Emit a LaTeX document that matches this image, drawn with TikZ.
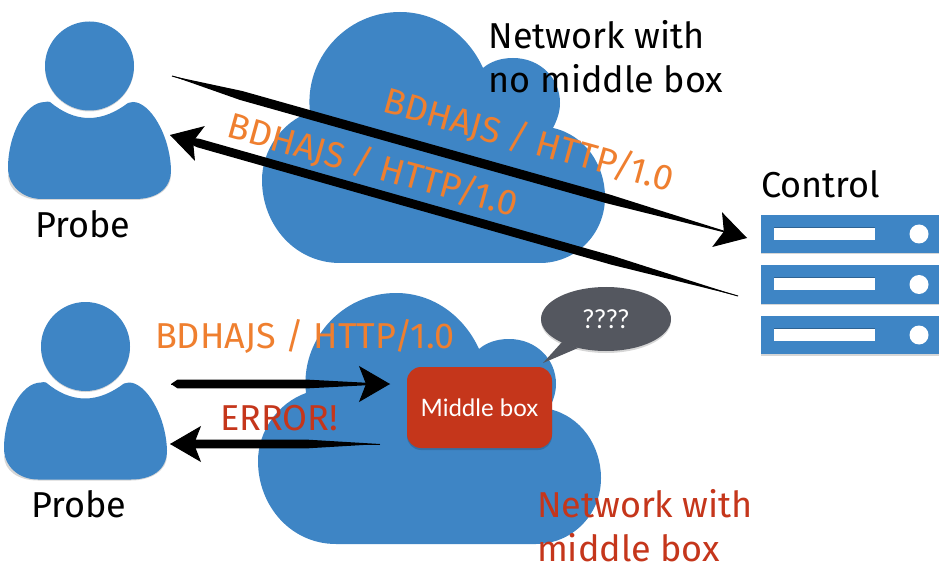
\documentclass[tikz,border=0pt]{standalone}
\usepackage{fontspec}
\setmainfont{Fira Sans}
\newfontfamily\thinfont{Lato}
\usetikzlibrary{calc,arrows.meta,shapes.geometric}
\definecolor{cloudblue}{HTML}{3E85C5}
\definecolor{probeorange}{HTML}{EF7F2F}
\definecolor{boxred}{HTML}{C5361B}
\definecolor{bubblegrey}{HTML}{54575F}
\tikzset{
  lbl/.style={inner sep=0pt,outer sep=0pt,anchor=base west,font=\fontsize{36}{36}\selectfont},
  slanted/.style={lbl,text=probeorange,rotate=-15.5},
  blueshape/.style={fill=cloudblue,draw=none},
  softshadow/.style={fill=black,opacity=.16,draw=none},
  brush/.style={draw=black,line width=1pt,-{Stealth[length=31pt,width=36pt,inset=7pt]}},
}
\newcommand{\cloudshape}[1]{%
  \begin{scope}[shift={(#1)}]
    \fill[blueshape] (310,112) .. controls (304,60) and (345,12) .. (400,12)
      .. controls (437,12) and (468,35) .. (483,68)
      .. controls (490,62) and (500,58) .. (513,58)
      .. controls (540,58) and (560,78) .. (560,103)
      .. controls (560,112) and (557,120) .. (553,128)
      .. controls (585,135) and (605,165) .. (605,197)
      .. controls (605,235) and (575,263) .. (540,263)
      -- (340,263) .. controls (295,263) and (262,225) .. (262,180)
      .. controls (262,150) and (282,122) .. (310,112) -- cycle;
  \end{scope}}
\newcommand{\personshape}[1]{%
  \begin{scope}[shift={(#1)}]
    \fill[softshadow] (89.5,67) circle[radius=44.5];
    \fill[softshadow] (42,200) -- (135,200) .. controls (155,200) and (171,190) .. (171,175) -- (8,175) .. controls (8,190) and (22,200) .. (42,200) -- cycle;
    \fill[blueshape] (89.5,66) circle[radius=44.5];
    \fill[blueshape] (50,102) .. controls (62,112) and (75,118) .. (89,118)
      .. controls (103,118) and (116,112) .. (128,103)
      .. controls (130,102) and (131,102) .. (133,102)
      .. controls (150,102) and (170,135) .. (171,170)
      .. controls (171,190) and (155,199) .. (135,199)
      -- (42,199) .. controls (22,199) and (8,185) .. (8,168)
      .. controls (8,135) and (25,102) .. (45,102)
      .. controls (47,102) and (48,101) .. (50,102) -- cycle;
  \end{scope}}
\newcommand{\serverbar}[1]{%
  \begin{scope}[shift={(0,#1)}]
    \fill[softshadow] (761,217) rectangle (939,254.5);
    \fill[blueshape] (761,215) rectangle (939,253);
    \fill[black,opacity=.25] (774,227) rectangle (875,229);
    \fill[white] (774,228) rectangle (875,240);
    \fill[white] (919,234) circle[radius=9.5];
  \end{scope}}
% tapered stroke from #1 (thin tail) to #2 (under the head): #3 tail fraction, #4 thick fraction, #5 end half-width
\newcommand{\brushbody}[5]{%
  \coordinate (ba) at ($(#1)!#3!(#2)$);
  \coordinate (bb) at ($(#1)!#4!(#2)$);
  \fill[black] (#1) -- ($(ba)!#5!90:(#2)$) -- ($(bb)!#5!90:(#2)$) -- (#2) -- ($(bb)!#5!-90:(#2)$) -- ($(ba)!#5!-90:(#2)$) -- cycle;
}
\begin{document}
\begin{tikzpicture}[x=1pt,y=-1pt]
\useasboundingbox[fill=white] (0,0) rectangle (950,577);
% clouds
\cloudshape{0,0}
\cloudshape{-4,281}
% people
\personshape{0,0}
\personshape{-4,280.5}
% server
\serverbar{0}
\serverbar{50.5}
\serverbar{101}
% connector ends
\coordinate (upstart) at (172,76);
\coordinate (upend) at (747,238);
\coordinate (backstart) at (738,296);
\coordinate (backend) at (170,135);
\coordinate (mbstart) at (171,384);
\coordinate (mbend) at (390,384);
\coordinate (errstart) at (380,444);
\coordinate (errend) at (170,444);
% connectors
\draw[brush] (upstart) -- (upend);
\brushbody{upstart}{upend}{0.12}{0.76}{4.6pt}
\draw[brush] (backstart) -- (backend);
\brushbody{backstart}{backend}{0.22}{0.95}{4.4pt}
\draw[brush] (mbstart) -- (mbend);
\brushbody{mbstart}{mbend}{0.03}{0.62}{4.4pt}
\draw[brush] (errstart) -- (errend);
\brushbody{errstart}{errend}{0.35}{0.9}{4.4pt}
% labels
\node[lbl] (net1a) at (488.5,49) {Network with};
\node[lbl] (net1b) at (488.5,93) {no middle box};
\node[lbl] (ctrl) at (761,198) {Control};
\node[lbl] (probe1) at (35.5,238) {Probe};
\node[lbl] (probe2) at (31.5,517) {Probe};
\node[lbl,text=boxred] (net2a) at (537,517) {Network with};
\node[lbl,text=boxred] (net2b) at (537,561) {middle box};
\node[slanted] (req1) at (381,112) {BDHAJS / HTTP/1.0};
\node[slanted] (resp1) at (225,137) {BDHAJS / HTTP/1.0};
\node[lbl,text=probeorange] (req2) at (155,348) {BDHAJS / HTTP/1.0};
\node[lbl,text=boxred] (err) at (220,430) {ERROR!};
% middle box
\fill[softshadow,rounded corners=14pt] (407,369) rectangle (552,450);
\node[draw=none,fill=boxred,rounded corners=14pt,minimum width=145pt,minimum height=81pt,inner sep=0pt,text=white,font=\thinfont\fontsize{24}{24}\selectfont] (mbox) at (479.5,407.5) {\raisebox{-1.5pt}{Middle box}};
% speech bubble
\fill[softshadow] (606,321) ellipse[x radius=65,y radius=32];
\coordinate (tailtip) at (543,363);
\fill[bubblegrey] (562,342) -- (tailtip) -- (578,348) -- cycle;
\node[ellipse,fill=bubblegrey,minimum width=130pt,minimum height=64pt,inner sep=0pt,text=white,font=\thinfont\fontsize{26}{26}\selectfont] (bubble) at (606,319) {????};
\end{tikzpicture}
\end{document}
